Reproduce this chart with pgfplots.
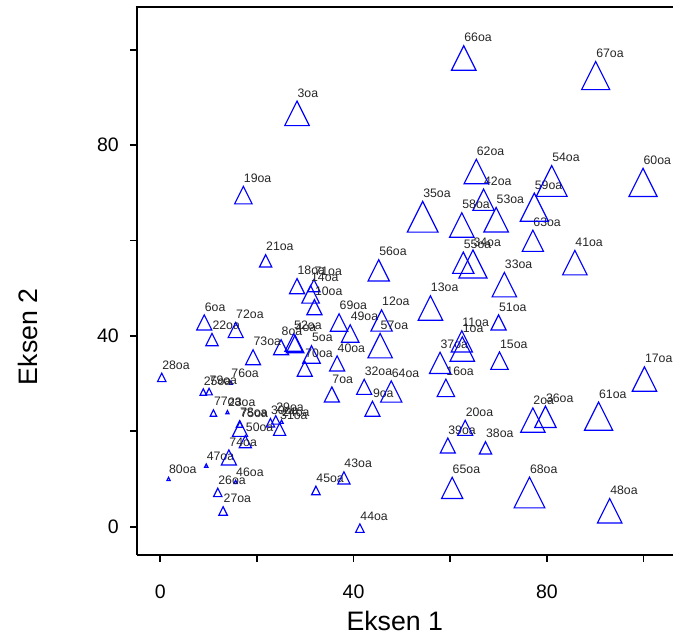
\documentclass[border=0pt]{standalone}
\usepackage{fontspec}
\setmainfont{Liberation Sans}
\usepackage{pgfplots}
\pgfplotsset{compat=1.18}
\pgfdeclareplotmark{isotri}{%
  \pgfpathmoveto{\pgfqpoint{0pt}{1.3333\pgfplotmarksize}}%
  \pgfpathlineto{\pgfqpoint{\pgfplotmarksize}{-0.6667\pgfplotmarksize}}%
  \pgfpathlineto{\pgfqpoint{-\pgfplotmarksize}{-0.6667\pgfplotmarksize}}%
  \pgfpathclose
  \pgfusepathqstroke}
\pgfplotsset{tri/.style={only marks, mark=isotri, mark size={(#1-1.2)/2},
  mark options={draw=blue, fill=none, line width=1.15pt},
  point meta=explicit symbolic, nodes near coords,
  every node near coord/.append style={anchor=base west, inner sep=0pt,
    yshift={(0.667*(#1-1.2)+3.8)*1pt}, font=\fontsize{12.3}{13}\selectfont, text=black!85}}}
\begin{document}
\begin{tikzpicture}
\useasboundingbox (-137pt,-82pt) rectangle (536pt,555pt);
\begin{axis}[
  at={(0,0)}, anchor=south west,
  width=536pt, height=548pt, scale only axis,
  xmin=-4.82, xmax=106.1, ymin=-5.93, ymax=108.95,
  axis x line*=bottom, axis y line*=left,
  axis line style={line width=2.5pt},
  xtick={0,20,...,100}, xticklabels={0,,40,,80,},
  ytick={0,20,...,100}, yticklabels={0,,40,,80,},
  tick align=outside, major tick length=7pt,
  tick style={line width=1.8pt, black},
  tick label style={font=\fontsize{19.5}{20}\selectfont, inner sep=0pt},
  xticklabel style={yshift=-23pt},
  yticklabel style={xshift=-11pt},
  xlabel={Eksen 1}, ylabel={Eksen 2},
  label style={font=\fontsize{26.7}{28}\selectfont},
  xlabel style={at={(rel axis cs:0.481,-0.1204)}, anchor=center},
  ylabel style={at={(rel axis cs:-0.2034,0.398)}, anchor=center},
  clip=false,
]
% smallest
\addplot[tri=4.5] coordinates {(14.6,30.1)[76oa] (13.9,23.9)[23oa] (9.5,12.7)[47oa]
  (1.7,9.9)[80oa] (15.6,9.3)[46oa] (25.1,21.9)[24oa]};
\addplot[tri=7.7] coordinates {(8.9,28.0)[25oa] (10.1,28.1)[79oa] (11.0,23.6)[77oa]
  (16.4,21.3)[78oa]};
\addplot[tri=9.7] coordinates {(0.3,31.0)[28oa] (41.3,-0.6)[44oa] (11.9,6.9)[26oa]
  (13.0,3.0)[27oa] (22.8,21.5)[30oa] (32.2,7.3)[45oa] (23.9,22.1)[29oa]};
\addplot[tri=13.5] coordinates {(21.8,55.3)[21oa] (10.7,38.8)[22oa] (31.8,50.1)[71oa]
  (38.0,9.8)[43oa] (67.3,16.1)[38oa] (24.7,20.0)[31oa] (17.6,17.4)[50oa]};
\addplot[tri=16.3] coordinates {(9.1,42.3)[6oa] (15.6,40.7)[72oa] (28.3,49.9)[18oa]
  (31.9,45.5)[10oa] (25.0,37.1)[8oa] (19.2,35.0)[73oa] (29.9,32.6)[70oa]
  (36.6,33.7)[40oa] (35.5,27.2)[7oa] (42.2,28.8)[32oa] (43.9,24.2)[9oa]
  (59.5,16.5)[39oa] (63.1,20.2)[20oa] (70.0,42.3)[51oa] (16.5,20.0)[75oa]
  (14.2,14.0)[74oa]};
\addplot[tri=18.7] coordinates {(17.2,68.9)[19oa] (31.1,48.1)[14oa] (27.6,38.0)[52oa]
  (27.9,37.7)[4oa] (31.3,35.5)[5oa] (39.3,39.9)[49oa] (70.2,34.2)[15oa]
  (59.1,28.5)[16oa] (37.0,42.2)[69oa]};
\addplot[tri=22.5] coordinates {(47.8,27.6)[64oa] (57.9,33.6)[37oa] (60.4,7.4)[65oa]
  (45.8,42.5)[12oa] (45.2,53.0)[56oa] (66.9,67.8)[42oa] (77.1,59.2)[63oa]
  (62.7,54.6)[55oa] (62.4,38.1)[11oa] (79.7,22.3)[36oa]};
\addplot[tri=25.7] coordinates {(62.8,97.4)[66oa] (65.4,73.6)[62oa] (28.3,85.8)[3oa]
  (45.5,37.1)[57oa] (55.9,45.0)[13oa] (62.4,62.4)[58oa] (69.5,63.5)[53oa]
  (71.2,49.9)[33oa] (62.5,36.4)[1oa] (85.8,54.5)[41oa] (100.2,30.1)[17oa]
  (77.1,21.5)[2oa] (93.0,2.5)[48oa]};
\addplot[tri=29.3] coordinates {(90.1,93.6)[67oa] (99.9,71.2)[60oa] (77.4,66.0)[59oa]
  (64.7,54.1)[34oa] (90.7,22.2)[61oa]};
\addplot[tri=32] coordinates {(81.0,71.4)[54oa] (54.3,63.9)[35oa] (76.4,6.1)[68oa]};
\draw[line width=2.5pt] ([xshift=-1.25pt]rel axis cs:0,1) -- (rel axis cs:1,1);
\end{axis}
\end{tikzpicture}
\end{document}
